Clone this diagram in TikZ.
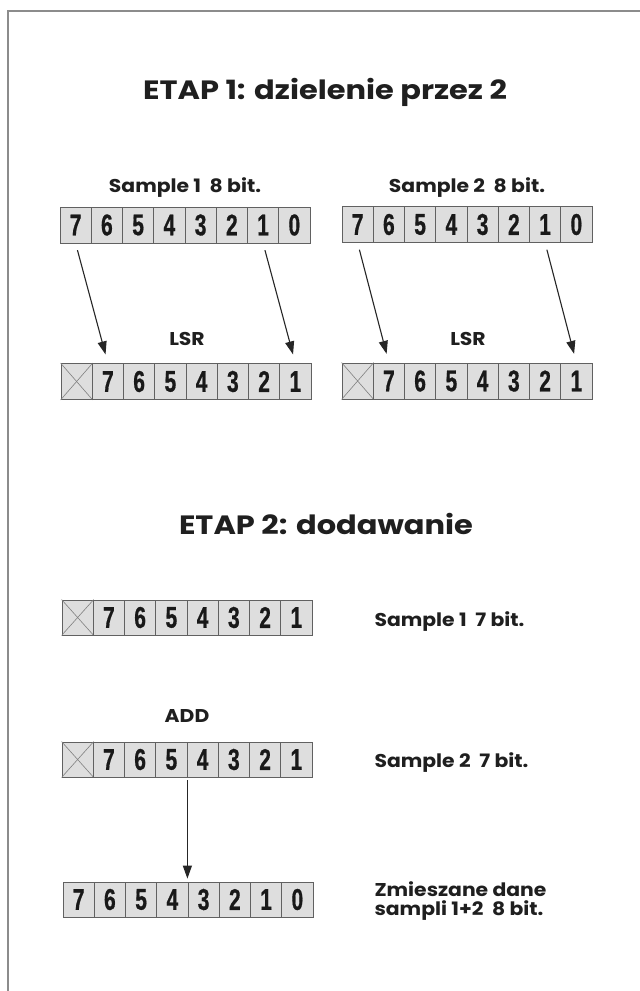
\documentclass[tikz,border=0pt]{standalone}
\usepackage{fontspec}
\usepackage{graphicx}
\setmainfont{Poppins}
\newfontfamily\titlefont{Poppins}[FakeStretch=1.15]
\newfontfamily\labelfont{Poppins}[FakeStretch=1.1]
\newfontfamily\digitfont{Liberation Sans}[BoldFeatures={FakeBold=0.8}]
\usetikzlibrary{arrows.meta}

% one register cell holding a condensed bold digit
\newcommand\celldigit[1]{\scalebox{0.7}[1]{\digitfont\bfseries\fontsize{30}{30}\selectfont #1}}

\tikzset{
  cell/.style={draw=black!62, line width=0.8pt, fill=black!13, inner sep=0pt,
    minimum width=31.25pt, minimum height=#1, text=black!90},
  cell/.default=36pt,
  xline/.style={draw=black!50, line width=0.6pt},
  shiftarrow/.style={draw=black!85, line width=1.1pt,
    -{Triangle[length=13pt,width=9pt]}},
  title/.style={font=\titlefont\bfseries\fontsize{26.5}{30}\selectfont, text=black!88, anchor=base},
  label/.style={font=\labelfont\bfseries\fontsize{18.5}{20}\selectfont, text=black!88},
  frame/.style={draw=black!45, line width=1.4pt},
}

% \register{name}{left x}{centre y}{height}{digits, -1 = unused bit}
\newcommand\register[5]{%
  \foreach \d [count=\i from 0] in {#5} {%
    \ifnum\d<0
      \node[cell=#4] (#1-\i) at ({#2+31.25*(\i+0.5)},#3) {};
      \draw[xline] (#1-\i.north west) -- (#1-\i.south east)
                   (#1-\i.north east) -- (#1-\i.south west);
    \else
      \node[cell=#4] (#1-\i) at ({#2+31.25*(\i+0.5)},#3) {\celldigit{\d}};
    \fi
  }%
}

\begin{document}
\begin{tikzpicture}[x=1pt,y=-1pt]
  \useasboundingbox (0,0) rectangle (640,991);
  \fill[white] (0,0) rectangle (640,991);
  \draw[frame] (8,991) -- (8,11) -- (640,11);

  % stage 1: division by two
  \node[title] (t1) at (325,99) {ETAP 1: dzielenie przez 2};
  \node[label, anchor=base] (s1) at (185,192) {Sample 1\ \ 8 bit.};
  \node[label, anchor=base] (s2) at (467,192) {Sample 2\ \ 8 bit.};

  \register{A}{60}{225}{36pt}{7,6,5,4,3,2,1,0}
  \register{B}{342}{224.5}{36pt}{7,6,5,4,3,2,1,0}
  \register{C}{61}{381.5}{36pt}{-1,7,6,5,4,3,2,1}
  \register{D}{342}{381}{36pt}{-1,7,6,5,4,3,2,1}

  \node[label, anchor=base] (lsr1) at (187,345) {LSR};
  \node[label, anchor=base] (lsr2) at (468,345) {LSR};

  \draw[shiftarrow, shorten <=7pt, shorten >=9pt] (A-0.south) -- (C-1.north);
  \draw[shiftarrow, shorten <=7pt, shorten >=9pt] (A-6.south) -- (C-7.north);
  \draw[shiftarrow, shorten <=7pt, shorten >=9pt] (B-0.south) -- (D-1.north);
  \draw[shiftarrow, shorten <=7pt, shorten >=9pt] (B-6.south) -- (D-7.north);

  % stage 2: addition
  \node[title] (t2) at (326,534) {ETAP 2: dodawanie};

  \register{E}{62}{617.5}{35pt}{-1,7,6,5,4,3,2,1}
  \register{F}{62}{759.5}{35pt}{-1,7,6,5,4,3,2,1}
  \register{G}{63}{899.5}{35pt}{7,6,5,4,3,2,1,0}

  \node[label, anchor=base west] (e1) at (371,626) {Sample 1\ \ 7 bit.};
  \node[label, anchor=base] (add) at (187,722) {ADD};
  \node[label, anchor=base west] (f1) at (371,767) {Sample 2\ \ 7 bit.};
  \node[label, anchor=base west] (g1) at (371,896) {Zmieszane dane};
  \node[label, anchor=base west] (g2) at (371,915) {sampli 1+2\ \ 8 bit.};

  \draw[shiftarrow, shorten <=3pt, shorten >=3pt]
    (F-3.south east) -- (F-3.south east |- G-3.north);
\end{tikzpicture}
\end{document}
